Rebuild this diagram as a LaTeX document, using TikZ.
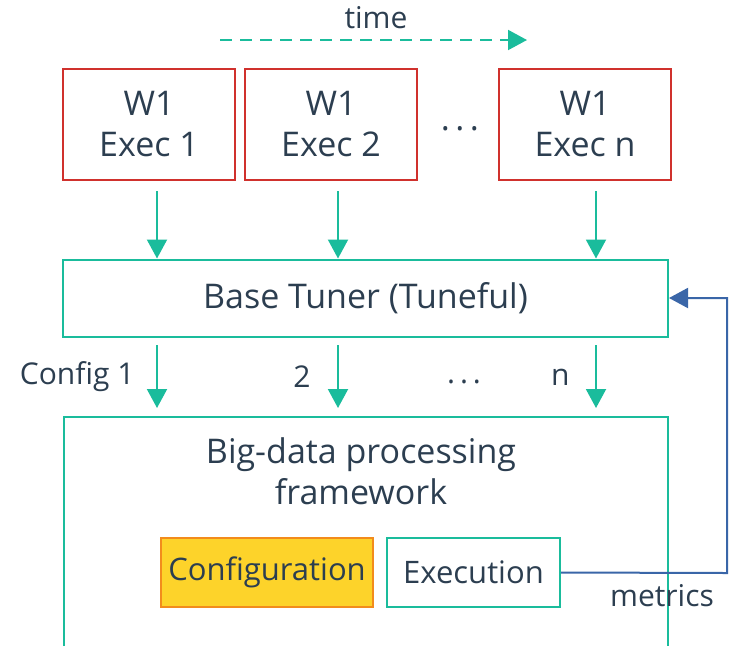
\documentclass[tikz,border=0pt]{standalone}
\usepackage{fontspec}
\setmainfont{Open Sans}
\usetikzlibrary{arrows.meta}
\definecolor{ink}{HTML}{2C3E50}
\definecolor{teal}{HTML}{1ABC9C}
\definecolor{brick}{HTML}{D0312D}
\definecolor{sun}{HTML}{FDD32A}
\definecolor{amber}{HTML}{F28C1C}
\definecolor{steel}{HTML}{3A66A8}
\newcommand{\spaceddots}{.\hspace{0.16em}.\hspace{0.16em}.}
\tikzset{
  big/.style={font=\fontsize{34}{41}\selectfont, text=ink},
  small/.style={font=\fontsize{30}{36}\selectfont, text=ink},
  execbox/.style={draw=brick, line width=2pt, minimum width=172pt, minimum height=111pt, align=center, big, inner sep=0pt},
  flow/.style={draw=teal, line width=2pt, -{Triangle[length=19pt,width=20pt]}},
  ibox/.style={line width=2pt, minimum height=69pt, inner sep=0pt, font=\fontsize{31}{37}\selectfont, text=ink}
}
\begin{document}
\begin{tikzpicture}[x=1pt,y=1pt]
\useasboundingbox (0,0) rectangle (735,-646);
% time axis
\node[small] (time) at (376,-18) {time};
\coordinate (t0) at (220,-40);
\coordinate (t1) at (527,-40);
\draw[draw=teal, line width=2pt, dash pattern=on 12pt off 8pt, -{Triangle[length=19pt,width=20pt]}] (t0) -- (t1);
% workload executions
\node[execbox] (e1) at (149,-124.5) {W1\\Exec 1};
\node[execbox] (e2) at (331,-124.5) {W1\\Exec 2};
\node[execbox] (en) at (585,-124.5) {W1\\Exec n};
\node[big, anchor=base] (edots) at (460,-130) {\spaceddots};
% base tuner
\node[draw=teal, line width=2pt, minimum width=605pt, minimum height=77pt, inner sep=0pt, big] (tuner) at (365.5,-298) {Base Tuner (Tuneful)};
\coordinate (a1) at (157,-191);
\coordinate (a2) at (338,-191);
\coordinate (an) at (596,-191);
\draw[flow] (a1) -- (a1 |- tuner.north);
\draw[flow] (a2) -- (a2 |- tuner.north);
\draw[flow] (an) -- (an |- tuner.north);
% framework box, open at the bottom
\coordinate (fl) at (64,-646);
\coordinate (fr) at (668,-646);
\coordinate (ftl) at (64,-417);
\coordinate (ftr) at (668,-417);
\draw[draw=teal, line width=2pt] (fl) -- (ftl) -- (ftr) -- (fr);
\node[big, align=center] (fw) at (361,-471) {Big-data processing\\framework};
% configurations
\coordinate (c1) at (157,-345);
\coordinate (c2) at (338,-345);
\coordinate (cn) at (596,-345);
\draw[flow] (c1) -- (157,-408);
\draw[flow] (c2) -- (338,-408);
\draw[flow] (cn) -- (596,-408);
\node[small, anchor=east] (l1) at (138,-377) {Config 1};
\node[small, anchor=east] (l2) at (314,-377) {2};
\node[small, anchor=base] (ldots) at (464,-383) {\spaceddots};
\node[small, anchor=east] (ln) at (573,-377) {n};
% inner components
\node[ibox, draw=amber, fill=sun, minimum width=212pt] (conf) at (267,-572.5) {Configuration};
\node[ibox, draw=teal, minimum width=173pt] (exec) at (473.5,-572.5) {Execution};
% metrics feedback
\coordinate (m1) at (727,-573);
\coordinate (m2) at (727,-298);
\draw[draw=steel, line width=2pt, -{Triangle[length=19pt,width=20pt]}] (exec.east) -- (m1) -- (m2) -- (tuner.east);
\node[small] (metrics) at (662,-596) {metrics};
\end{tikzpicture}
\end{document}
